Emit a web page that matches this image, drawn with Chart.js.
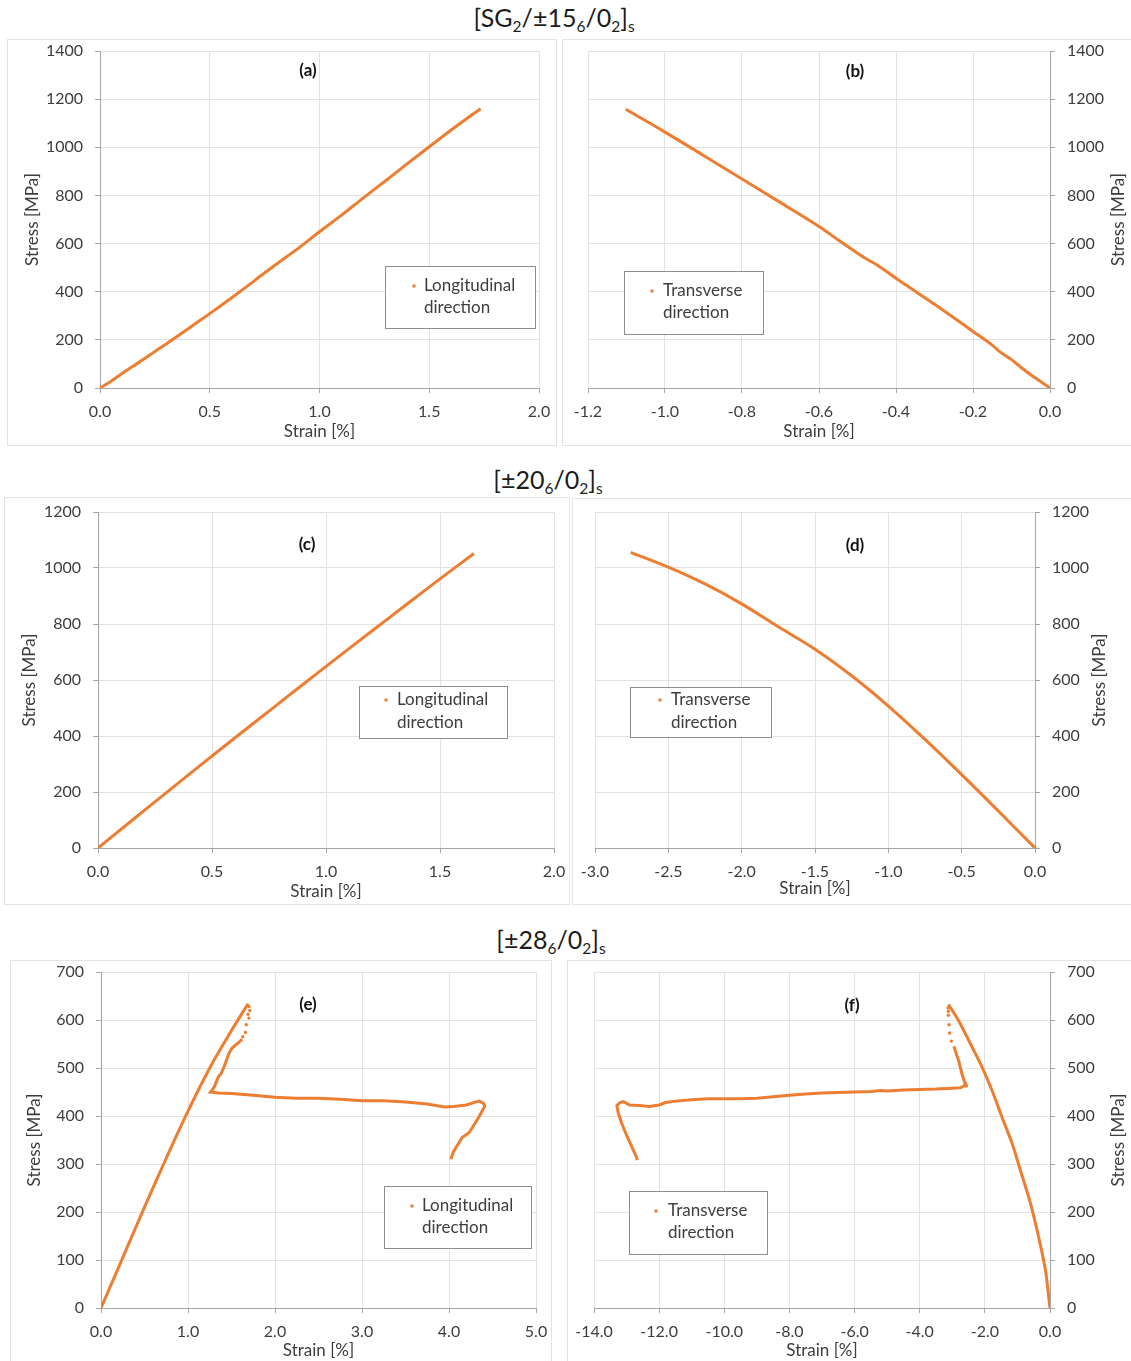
<!DOCTYPE html>
<html>
<head>
<meta charset="utf-8">
<title>Stress–strain response of the laminates</title>
<script src="https://cdn.jsdelivr.net/npm/chart.js@4.4.1/dist/chart.umd.min.js"></script>
<style>
  html, body { margin: 0; padding: 0; background: #fff; }
  body { width: 1131px; height: 1361px; position: relative; overflow: hidden; font-family: Lato, "Open Sans", sans-serif; }
  canvas.panel { position: absolute; outline: 1px solid #e3e3e3; }
  .heading { position: absolute; transform: translateX(-50%); font-size: 25px; line-height: 1; color: #1c1c1c; white-space: nowrap; }
  .heading sub { font-size: 0.62em; vertical-align: -0.32em; line-height: 0; }
</style>
</head>
<body>
<div class="heading" style="left:554px; top:5px;">[SG<sub>2</sub>/±15<sub>6</sub>/0<sub>2</sub>]<sub>s</sub></div>
<div class="heading" style="left:548px; top:467px;">[±20<sub>6</sub>/0<sub>2</sub>]<sub>s</sub></div>
<div class="heading" style="left:551px; top:927px;">[±28<sub>6</sub>/0<sub>2</sub>]<sub>s</sub></div>

<canvas id="chartA" class="panel"></canvas>
<canvas id="chartB" class="panel"></canvas>
<canvas id="chartC" class="panel"></canvas>
<canvas id="chartD" class="panel"></canvas>
<canvas id="chartE" class="panel"></canvas>
<canvas id="chartF" class="panel"></canvas>

<script>
// ---------- Data: strain [%] and stress [MPa] ----------

// [SG2/±15_6/0_2]s, longitudinal
const strainA = [0, 0.05, 0.10, 0.15, 0.20, 0.25, 0.30, 0.40, 0.50, 0.60, 0.70, 0.72, 0.80, 0.85, 0.90, 1.00, 1.10, 1.20, 1.30, 1.40, 1.50, 1.60, 1.70, 1.734];
const stressA = [0, 28, 60, 90, 120, 152, 182, 245, 309, 375, 443, 458, 512, 545, 578, 649, 718, 790, 860, 932, 1002, 1072, 1138, 1160];

// [SG2/±15_6/0_2]s, transverse
const strainB = [0, -0.02, -0.05, -0.08, -0.10, -0.13, -0.15, -0.20, -0.25, -0.30, -0.35, -0.40, -0.45, -0.47, -0.50, -0.55, -0.60, -0.70, -0.80, -0.90, -1.00, -1.102];
const stressB = [0, 22, 55, 92, 118, 150, 178, 235, 292, 348, 402, 456, 512, 530, 560, 615, 671, 770, 868, 966, 1063, 1158];

// [±20_6/0_2]s, longitudinal
const strainC = [0, 0.15, 0.30, 0.45, 0.60, 0.75, 0.90, 1.05, 1.20, 1.35, 1.50, 1.649];
const stressC = [0, 99, 198, 296, 393, 489, 585, 680, 774, 868, 961, 1052];

// [±20_6/0_2]s, transverse
const strainD = [0, -0.25, -0.50, -0.75, -1.00, -1.25, -1.50, -1.75, -2.00, -2.25, -2.50, -2.757];
const stressD = [0, 132, 262, 388, 507, 615, 710, 790, 872, 943, 1003, 1056];

// [±28_6/0_2]s, longitudinal: loading branch, scattered points after the peak, and the plateau
const strainE = [0, 0.25, 0.50, 0.75, 1.00, 1.25, 1.50, 1.69];
const stressE = [0, 105, 210, 312, 410, 500, 578, 634];
const strainEdrop = [1.70, 1.71, 1.69, 1.70, 1.67, 1.66, 1.63, 1.61];
const stressEdrop = [628, 620, 612, 604, 590, 574, 565, 558];
const strainEplat = [1.60, 1.55, 1.50, 1.47, 1.42, 1.38, 1.35, 1.30, 1.27, 1.26, 1.35, 1.50, 1.75, 2.00, 2.25, 2.50, 2.75, 3.00, 3.25, 3.50, 3.75, 3.95, 4.05, 4.20, 4.30, 4.35, 4.40, 4.41, 4.35, 4.30, 4.23, 4.15, 4.10, 4.05, 4.02];
const stressEplat = [556, 548, 540, 530, 505, 488, 482, 460, 452, 450, 448, 447, 443, 439, 437, 437, 435, 432, 432, 429, 425, 419, 420, 423, 429, 431, 426, 420, 400, 385, 365, 355, 340, 325, 310];

// [±28_6/0_2]s, transverse: loading branch, scattered points after the peak, and the plateau
const strainF = [0, -0.04, -0.14, -0.35, -0.60, -0.91, -1.16, -1.47, -1.78, -2.08, -2.44, -2.80, -3.00, -3.12];
const stressF = [0, 23, 79, 148, 218, 287, 342, 397, 453, 501, 550, 598, 620, 632];
const strainFdrop = [-3.13, -3.12, -3.12, -3.10, -3.08, -3.03];
const stressFdrop = [625, 618, 610, 590, 573, 556];
const strainFplat = [-2.95, -2.88, -2.80, -2.70, -2.60, -2.55, -2.58, -2.66, -2.75, -3.00, -3.50, -4.00, -4.50, -5.00, -5.20, -5.50, -6.00, -6.50, -7.00, -7.50, -8.00, -8.50, -9.00, -9.50, -10.00, -10.50, -11.00, -11.50, -11.80, -12.00, -12.30, -12.60, -12.90, -13.10, -13.20, -13.30, -13.25, -13.15, -13.00, -12.90, -12.80, -12.70, -12.67];
const stressFplat = [545, 530, 514, 487, 466, 460, 466, 462, 459, 458, 456, 455, 454, 452, 453, 451, 450, 449, 448, 446, 443, 440, 437, 436, 436, 436, 434, 431, 428, 423, 420, 422, 423, 430, 428, 422, 405, 385, 360, 345, 330, 315, 308];

// ---------- Tick values ----------
const xTicksA = [0, 0.5, 1.0, 1.5, 2.0];
const xTicksB = [-1.2, -1.0, -0.8, -0.6, -0.4, -0.2, 0];
const xTicksC = [0, 0.5, 1.0, 1.5, 2.0];
const xTicksD = [-3.0, -2.5, -2.0, -1.5, -1.0, -0.5, 0];
const xTicksE = [0, 1.0, 2.0, 3.0, 4.0, 5.0];
const xTicksF = [-14, -12, -10, -8, -6, -4, -2, 0];
const yTicks1400 = [0, 200, 400, 600, 800, 1000, 1200, 1400];
const yTicks1200 = [0, 200, 400, 600, 800, 1000, 1200];
const yTicks700 = [0, 100, 200, 300, 400, 500, 600, 700];

const seriesLong = 'Longitudinal direction';
const seriesTrans = 'Transverse direction';

// ---------- Styling ----------
const ORANGE = '#ED7D31';
const TEXT = '#3d3d3d';
const GRID = '#e2e2e2';
const AXIS = '#a6a6a6';
const FAMILY = 'Lato, "Open Sans", sans-serif';
Chart.defaults.font.family = FAMILY;

const pts = (xs, ys) => xs.map((x, i) => ({ x, y: ys[i] }));

// smooth = curved loading branches; plateaus stay straight-segmented
function lineSet(label, xs, ys, smooth) {
  return { label, data: pts(xs, ys), showLine: true, borderColor: ORANGE, backgroundColor: ORANGE,
           borderWidth: 3, pointRadius: 0, pointHoverRadius: 0, tension: smooth ? 0.35 : 0 };
}
function dotSet(label, xs, ys) {
  return { label, data: pts(xs, ys), showLine: false, borderColor: ORANGE, backgroundColor: ORANGE,
           borderWidth: 0, pointRadius: 1.7, pointHoverRadius: 0 };
}

// Legend box, panel tag and right-hand axis title, drawn on top of the series
const panelDecor = {
  id: 'panelDecor',
  afterDatasetsDraw(chart, args, o) {
    const ctx = chart.ctx;
    const ds = chart.data.datasets[0];
    ctx.save();
    const [lx, ly, lw, lh] = o.legendRect;
    ctx.fillStyle = '#ffffff';
    ctx.fillRect(lx, ly, lw, lh);
    ctx.strokeStyle = '#8e8e8e';
    ctx.lineWidth = 1;
    ctx.strokeRect(Math.round(lx) + 0.5, Math.round(ly) + 0.5, Math.round(lw), Math.round(lh));
    ctx.fillStyle = ds.backgroundColor;
    ctx.beginPath();
    ctx.arc(o.markerX, o.line1Y, 1.7, 0, Math.PI * 2);
    ctx.fill();
    const words = ds.label.split(' ');
    ctx.font = '17px ' + FAMILY;
    ctx.fillStyle = TEXT;
    ctx.textAlign = 'left';
    ctx.textBaseline = 'middle';
    ctx.fillText(words[0], o.textX, o.line1Y);
    ctx.fillText(words[1], o.textX, o.line2Y);

    ctx.font = 'bold 17px ' + FAMILY;
    ctx.fillStyle = '#111111';
    ctx.textAlign = 'center';
    ctx.fillText(o.tag, o.tagX, o.tagY);

    if (o.rightTitleX !== null) {
      const a = chart.chartArea;
      ctx.translate(o.rightTitleX, (a.top + a.bottom) / 2);
      ctx.rotate(-Math.PI / 2);
      ctx.font = '17px ' + FAMILY;
      ctx.fillStyle = TEXT;
      ctx.fillText('Stress [MPa]', 0, 0);
    }
    ctx.restore();
  }
};

// Panel geometry in page pixels: box = [left, top, right, bottom], plot = [x0, x1, y0, y1]
const panels = [
  { id: 'chartA', box: [8, 40, 556, 445], plot: [100, 539, 51, 388], side: 'left',
    datasets: [lineSet(seriesLong, strainA, stressA, true)], xTicks: xTicksA, yTicks: yTicks1400,
    yTitleX: 33, xTitleY: 432, tag: '(a)', tagPos: [308, 71],
    legend: [385, 266, 150, 62], markerX: 414, textX: 424, lines: [286, 308] },
  { id: 'chartB', box: [563, 40, 1131, 445], plot: [588, 1050, 51, 388], side: 'right',
    datasets: [lineSet(seriesTrans, strainB, stressB, true)], xTicks: xTicksB, yTicks: yTicks1400,
    yTitleX: 1119, xTitleY: 432, tag: '(b)', tagPos: [855, 72],
    legend: [624, 271, 139, 63], markerX: 652, textX: 663, lines: [291, 313] },
  { id: 'chartC', box: [5, 498, 569, 904], plot: [98, 554, 512, 848], side: 'left',
    datasets: [lineSet(seriesLong, strainC, stressC, true)], xTicks: xTicksC, yTicks: yTicks1200,
    yTitleX: 30, xTitleY: 892, tag: '(c)', tagPos: [307, 545],
    legend: [359, 686, 148, 52], markerX: 386, textX: 397, lines: [700, 723] },
  { id: 'chartD', box: [573, 499, 1131, 904], plot: [595, 1035, 512, 848], side: 'right',
    datasets: [lineSet(seriesTrans, strainD, stressD, true)], xTicks: xTicksD, yTicks: yTicks1200,
    yTitleX: 1100, xTitleY: 889, tag: '(d)', tagPos: [855, 546],
    legend: [630, 687, 141, 50], markerX: 660, textX: 671, lines: [700, 723] },
  { id: 'chartE', box: [11, 961, 551, 1361], plot: [101, 536, 972, 1308], side: 'left',
    datasets: [lineSet(seriesLong, strainE, stressE, true), dotSet(seriesLong, strainEdrop, stressEdrop),
               lineSet(seriesLong, strainEplat, stressEplat, false)],
    xTicks: xTicksE, yTicks: yTicks700,
    yTitleX: 35, xTitleY: 1352, tag: '(e)', tagPos: [308, 1005],
    legend: [384, 1186, 147, 62], markerX: 412, textX: 422, lines: [1206, 1228] },
  { id: 'chartF', box: [568, 961, 1131, 1361], plot: [594, 1050, 972, 1308], side: 'right',
    datasets: [lineSet(seriesTrans, strainF, stressF, true), dotSet(seriesTrans, strainFdrop, stressFdrop),
               lineSet(seriesTrans, strainFplat, stressFplat, false)],
    xTicks: xTicksF, yTicks: yTicks700,
    yTitleX: 1119, xTitleY: 1352, tag: '(f)', tagPos: [852, 1006],
    legend: [629, 1191, 138, 63], markerX: 656, textX: 668, lines: [1211, 1233] }
];

const TITLE_FONT = 17, TITLE_LH = TITLE_FONT * 1.2;

panels.forEach(p => {
  const [L, T, R, B] = p.box;
  const [x0, x1, y0, y1] = p.plot;
  const W = R - L, H = B - T;
  const canvas = document.getElementById(p.id);
  canvas.width = W; canvas.height = H;
  canvas.style.left = L + 'px'; canvas.style.top = T + 'px';
  canvas.style.width = W + 'px'; canvas.style.height = H + 'px';
  const left = p.side === 'left';
  const padding = { left: left ? 0 : x0 - L, right: left ? R - x1 : 0, top: y0 - T, bottom: 0 };

  const chart = new Chart(canvas, {
    type: 'scatter',
    data: { datasets: p.datasets },
    plugins: [panelDecor],
    options: {
      responsive: false,
      animation: false,
      events: [],
      layout: { padding },
      plugins: {
        legend: { display: false },
        tooltip: { enabled: false },
        panelDecor: {
          legendRect: [p.legend[0] - L, p.legend[1] - T, p.legend[2], p.legend[3]],
          markerX: p.markerX - L, textX: p.textX - L,
          line1Y: p.lines[0] - T, line2Y: p.lines[1] - T,
          tag: p.tag, tagX: p.tagPos[0] - L, tagY: p.tagPos[1] - T,
          rightTitleX: left ? null : p.yTitleX - L
        }
      },
      scales: {
        x: {
          type: 'linear', position: 'bottom',
          min: p.xTicks[0], max: p.xTicks[p.xTicks.length - 1],
          afterBuildTicks: s => { s.ticks = p.xTicks.map(v => ({ value: v })); },
          // fixed band height; label overhang is covered by the layout padding
          afterFit: s => { s.height = B - y1; s.paddingLeft = 0; s.paddingRight = 0; },
          grid: { color: GRID, tickColor: AXIS, tickLength: 5 },
          border: { color: AXIS },
          ticks: { color: TEXT, font: { size: 16 }, padding: 9, maxRotation: 0, autoSkip: false,
                   callback: v => Number(v).toFixed(1) },
          title: { display: true, text: 'Strain [%]', color: TEXT, font: { size: TITLE_FONT },
                   padding: { top: 0, bottom: Math.max(0, (B - p.xTitleY) - TITLE_LH / 2) } }
        },
        y: {
          type: 'linear', position: p.side,
          min: p.yTicks[0], max: p.yTicks[p.yTicks.length - 1],
          afterBuildTicks: s => { s.ticks = p.yTicks.map(v => ({ value: v })); },
          afterFit: s => { s.width = left ? x0 - L : R - x1; s.paddingTop = 0; s.paddingBottom = 0; },
          grid: { color: GRID, tickColor: AXIS, tickLength: 5 },
          border: { color: AXIS },
          ticks: { color: TEXT, font: { size: 16 }, padding: 12, autoSkip: false,
                   callback: v => String(v) },
          title: { display: left, text: 'Stress [MPa]', color: TEXT, font: { size: TITLE_FONT },
                   padding: { top: left ? (p.yTitleX - L) - TITLE_LH / 2 : 0, bottom: 0 } }
        }
      }
    }
  });

  // Nudge the layout padding until the plot area sits on the intended edges
  for (let k = 0; k < 6; k++) {
    const a = chart.chartArea;
    const dTop = a.top - (y0 - T);
    const dSide = left ? (W - a.right) - (R - x1) : a.left - (x0 - L);
    if (Math.abs(dTop) < 0.5 && Math.abs(dSide) < 0.5) break;
    const pad = chart.config.options.layout.padding;
    pad.top -= dTop;
    if (left) pad.right -= dSide; else pad.left -= dSide;
    chart.update();
  }
});
</script>
</body>
</html>
